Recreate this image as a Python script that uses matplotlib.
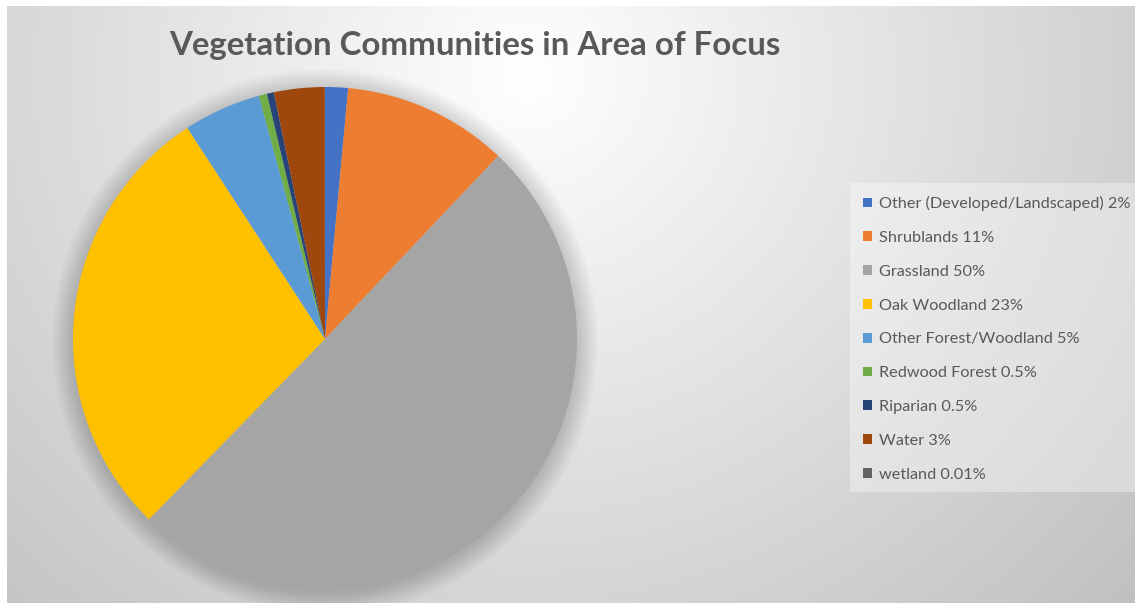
import numpy as np
import matplotlib
matplotlib.use("Agg")
import matplotlib.pyplot as plt
from matplotlib.patches import Rectangle

categories = ["Other (Developed/Landscaped) 2%", "Shrublands 11%", "Grassland 50%",
              "Oak Woodland 23%", "Other Forest/Woodland 5%", "Redwood Forest 0.5%",
              "Riparian 0.5%", "Water 3%", "wetland 0.01%"]
values = [1.47, 10.6, 50.25, 28.5, 4.97, 0.53, 0.44, 3.25, 0.01]
colors = ["#4472C4", "#ED7D31", "#A5A5A5", "#FFC000", "#5B9BD5",
          "#70AD47", "#264478", "#9E480E", "#636363"]
title = "Vegetation Communities in Area of Focus"

W, H = 1135, 603
fig = plt.figure(figsize=(W / 100, H / 100), dpi=100)
fig.patch.set_facecolor("white")

# background gradient
bg = fig.add_axes([7 / W, 0, 1 - 7 / W, 1 - 6 / H])
bg.set_axis_off()
yy, xx = np.mgrid[0:597, 0:1128]
cx, cy = 520, 70
d = np.sqrt(((xx - cx) / 1.0) ** 2 + ((yy - cy) / 0.95) ** 2)
v = 255 - 52 * np.clip(d / 680, 0, 1.2)
img = np.dstack([v, v, v]) / 255.0
bg.imshow(np.clip(img, 0, 1), aspect="auto", extent=[0, 1, 0, 1], origin="upper")
bg.set_xlim(0, 1)
bg.set_ylim(0, 1)

# pie axes
pcx, pcy, r = 325, 339, 252
pad = 30
ax = fig.add_axes([(pcx - r - pad) / W, 1 - (pcy + r + pad) / H,
                   2 * (r + pad) / W, 2 * (r + pad) / H])
ax.set_axis_off()

# soft shadow
for i in range(14):
    rr = 1.0 + 0.006 * (14 - i)
    c = plt.Circle((0.0, -0.01), rr, color="black", alpha=0.012, lw=0)
    ax.add_patch(c)

wedges, _ = ax.pie(values, colors=colors, startangle=90, counterclock=False,
                   radius=1.0, wedgeprops=dict(linewidth=0))
ext = (r + pad) / r
ax.set_aspect("auto")
ax.set_xlim(-ext, ext)
ax.set_ylim(-ext, ext)

fig.text(475 / W, 1 - 45 / H, title, ha="center", va="center",
         fontsize=23.8, fontweight="bold", color="#595959", family="Lato")

# legend box
fig.patches.append(Rectangle((850 / W, 1 - 492 / H), (W - 850) / W, (492 - 183) / H,
                             transform=fig.transFigure, facecolor="white",
                             alpha=0.35, edgecolor="none", zorder=1))

leg = fig.legend(wedges, categories, loc="upper left",
                 bbox_to_anchor=(855 / W, 1 - 188 / H), frameon=False,
                 handlelength=0.55, handleheight=0.55,
                 handletextpad=0.4, labelspacing=1.22, borderpad=0,
                 prop=dict(family="Lato", size=11.7))
for t in leg.get_texts():
    t.set_color("#595959")

fig.savefig("out.png", dpi=100, facecolor=fig.get_facecolor())
